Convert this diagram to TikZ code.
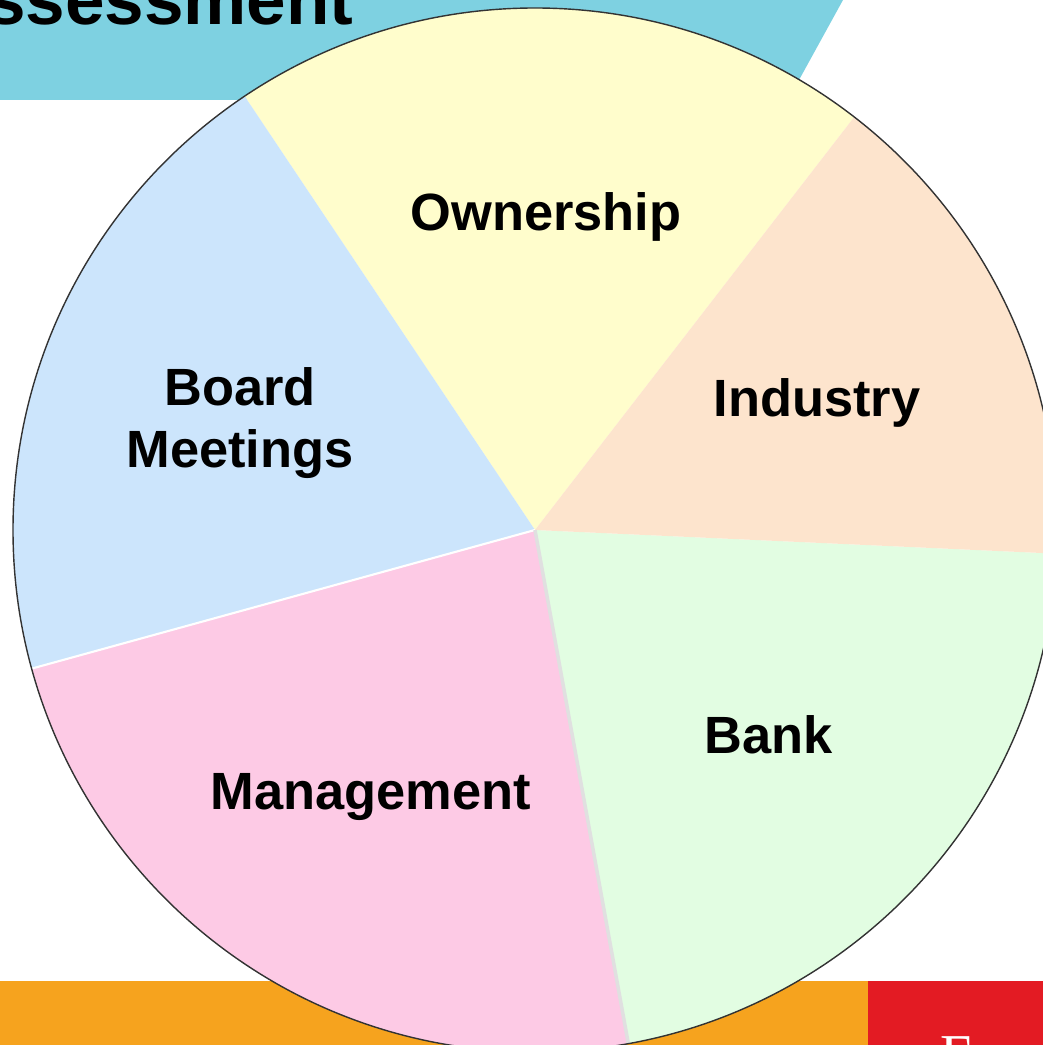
\documentclass[tikz,border=0pt]{standalone}
\usepackage{fontspec}
\setmainfont{Liberation Sans}
\newfontfamily\logofont{Liberation Serif}
\usepackage{tikz}
\usetikzlibrary{backgrounds}

\definecolor{bannercol}{HTML}{7ED1E1}
\definecolor{barorange}{HTML}{F6A31E}
\definecolor{barred}{HTML}{E31B23}
\definecolor{owncol}{HTML}{FFFDCC}
\definecolor{indcol}{HTML}{FDE4CD}
\definecolor{bankcol}{HTML}{E2FDE2}
\definecolor{mgmtcol}{HTML}{FDCAE5}
\definecolor{boardcol}{HTML}{CCE5FC}

\tikzset{
	slice/.style={draw=none},
	slicelabel/.style={font=\fontsize{14.9}{17.6}\selectfont\bfseries, align=center, inner sep=0pt},
}

\begin{document}
\begin{tikzpicture}[x=0.01cm, y=0.01cm]
		\useasboundingbox (0,0) rectangle (1043,1045);
		% banner and bottom bars
		\fill[bannercol] (0,1045) -- (843,1045) -- (788,945) -- (0,945) -- cycle;
		\node[anchor=base east, inner sep=0pt, font=\fontsize{20.2}{24}\selectfont\bfseries] (title) at (354,1020) {ssessment};
		\fill[barorange] (0,0) rectangle (868,64);
		\fill[barred] (868,0) rectangle (1043,64);
		\begin{scope}
			\clip (868,0) rectangle (1043,64);
			\node[anchor=north west, inner sep=0pt, text=white, font=\fontsize{16}{16}\logofont] (logo) at (940,9) {E};
		\end{scope}
		% pie
		\coordinate (c) at (535,515);
		\fill[slice, owncol] (c) -- ++(52.3:522) arc[start angle=52.3, end angle=123.8, radius=522] -- cycle;
		\fill[slice, boardcol] (c) -- ++(123.8:522) arc[start angle=123.8, end angle=195.4, radius=522] -- cycle;
		\fill[slice, mgmtcol] (c) -- ++(195.4:522) arc[start angle=195.4, end angle=280.3, radius=522] -- cycle;
		\fill[slice, bankcol] (c) -- ++(-79.7:522) arc[start angle=-79.7, end angle=-2.6, radius=522] -- cycle;
		\fill[slice, indcol] (c) -- ++(-2.6:522) arc[start angle=-2.6, end angle=52.3, radius=522] -- cycle;
		\draw[white, line width=0.6pt] (c) -- ++(195.4:522);
		\draw[black!12, line width=1pt] (c) -- ++(-79.7:522);
		\draw[black!80, line width=0.4pt] (c) circle[radius=522];
		% labels
		\node[slicelabel] (own) at (546,828) {Ownership};
		\node[slicelabel] (board) at (240,622) {Board\\Meetings};
		\node[slicelabel] (ind) at (817,642) {Industry};
		\node[slicelabel] (bank) at (769,310) {Bank};
		\node[slicelabel] (mgmt) at (371,248) {Management};
	\end{tikzpicture}
\end{document}
